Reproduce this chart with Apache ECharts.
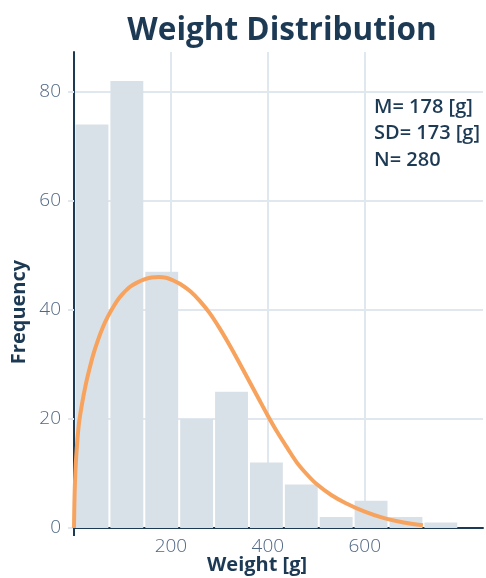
<!DOCTYPE html>
<html>
<head>
<meta charset="utf-8">
<script src="https://cdn.jsdelivr.net/npm/echarts@6/dist/echarts.min.js"></script>
<style>
  html, body { margin: 0; padding: 0; background: #fff; }
  #chart { width: 486px; height: 578px; }
</style>
</head>
<body>
<div id="chart"></div>
<script>
// histogram counts, bins of 72 g starting at 0
var binStart = 0;
var binWidth = 72;
var counts = [74, 82, 47, 20, 25, 12, 8, 2, 5, 2, 1];

// fitted density curve [weight, frequency]
var curvePoints = [
    [0, 0], [1.5, 7], [4.5, 13], [10, 19], [16, 22.5], [24, 26.2],
    [32, 29.2], [40, 31.9], [50, 34.6], [60, 36.9], [70, 38.8], [80, 40.4],
    [90, 41.8], [100, 42.9], [115, 44.2], [130, 45.0], [145, 45.6],
    [160, 45.95], [175, 46.05], [190, 45.9], [205, 45.4], [220, 44.7],
    [240, 43.4], [260, 41.6], [280, 39.4], [300, 36.7], [320, 33.7],
    [340, 30.5], [360, 27.2], [380, 23.9], [400, 20.6], [420, 17.5],
    [440, 14.7], [460, 12.0], [480, 9.9], [500, 8.1], [530, 6.1],
    [560, 4.6], [600, 3.0], [640, 1.8], [680, 1.0], [720, 0.5]
];

var xTicks = [200, 400, 600];
var yTicks = [0, 20, 40, 60, 80];
var statLines = ['M= 178 [g]', 'SD= 173 [g]', 'N= 280'];

var dark = '#1d3a55';
var gridColor = '#e1e7ee';

var bins = counts.map(function (c, i) {
    return [binStart + i * binWidth, binStart + (i + 1) * binWidth, c];
});

var option = {
    animation: false,
    textStyle: { fontFamily: 'Open Sans' },
    title: {
        text: 'Weight Distribution',
        left: 277,
        top: 10,
        textAlign: 'center',
        textStyle: { fontSize: 31.5, fontWeight: 'bold', color: dark, fontFamily: 'Open Sans' }
    },
    graphic: [
        {
            type: 'text', left: 207, top: 555,
            style: { text: 'Weight [g]', font: 'bold 20px "Open Sans"', fill: dark }
        },
        {
            type: 'text', x: 19, y: 312, rotation: Math.PI / 2,
            style: { text: 'Frequency', font: 'bold 20px "Open Sans"', fill: dark, align: 'center', verticalAlign: 'middle' }
        },
        {
            type: 'text', left: 374, top: 94,
            style: { text: statLines.join('\n'), font: '600 20px "Open Sans"', fill: dark, lineHeight: 26.5 }
        }
    ],
    grid: { left: 74, right: 3, top: 52, bottom: 50 },
    xAxis: {
        type: 'value',
        min: 0,
        max: 844,
        interval: 200,
        axisLine: { show: true, onZero: false, lineStyle: { color: dark, width: 2 } },
        axisTick: { show: true, customValues: [0], length: 8, lineStyle: { color: dark, width: 2 } },
        axisLabel: { customValues: xTicks, fontSize: 19, fontWeight: 300, color: '#506784', margin: 9 },
        splitLine: { show: false }
    },
    yAxis: {
        type: 'value',
        min: 0,
        max: 87.3,
        interval: 20,
        axisLine: { show: true, lineStyle: { color: dark, width: 2 } },
        axisTick: { show: true, customValues: yTicks, length: 6, lineStyle: { color: gridColor, width: 2 } },
        axisLabel: { customValues: yTicks, fontSize: 19, fontWeight: 300, color: '#506784', margin: 13 },
        splitLine: { show: true, lineStyle: { color: gridColor, width: 2 } }
    },
    series: [
        {
            // vertical grid lines at the x tick values
            type: 'line',
            data: [],
            silent: true,
            markLine: {
                z: 1,
                silent: true,
                symbol: 'none',
                label: { show: false },
                lineStyle: { color: gridColor, width: 2, type: 'solid' },
                data: xTicks.map(function (v) { return { xAxis: v }; })
            }
        },
        {
            type: 'custom',
            data: bins,
            renderItem: function (params, api) {
                var p0 = api.coord([api.value(0), api.value(2)]);
                var p1 = api.coord([api.value(1), 0]);
                return {
                    type: 'rect',
                    shape: { x: p0[0] + 1.5, y: p0[1], width: p1[0] - p0[0] - 2, height: p1[1] - p0[1] },
                    style: { fill: '#d9e1e8' }
                };
            },
            encode: { x: [0, 1], y: 2 },
            z: 2
        },
        {
            type: 'line',
            data: curvePoints,
            smooth: 0.3,
            showSymbol: false,
            lineStyle: { color: '#f7a35e', width: 4 },
            z: 3
        }
    ]
};

var myChart = echarts.init(document.getElementById('chart'));
myChart.setOption(option);
</script>
</body>
</html>
